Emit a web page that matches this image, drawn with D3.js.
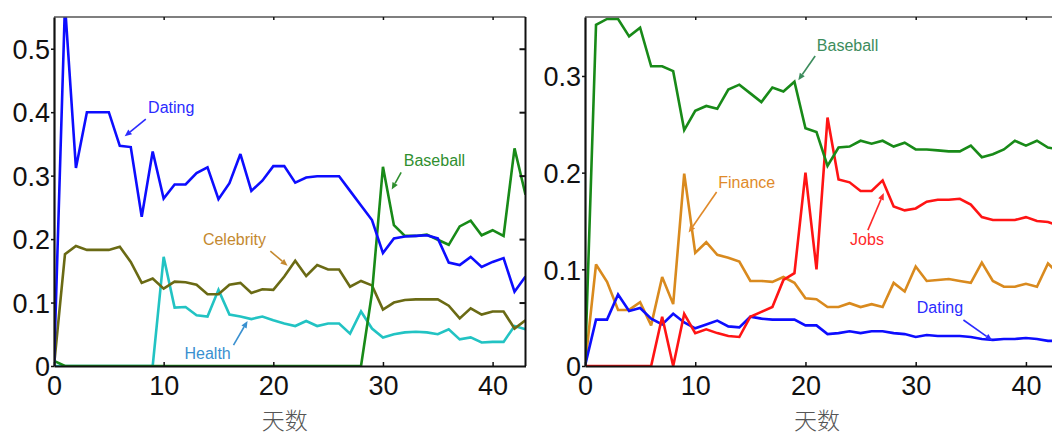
<!DOCTYPE html>
<html><head><meta charset="utf-8">
<script src="https://cdn.jsdelivr.net/npm/d3@7"></script>
<style>
html,body{margin:0;padding:0;background:#fff;}
svg{display:block;}
</style></head>
<body>
<svg id="chart" width="1052" height="436"></svg>
<script>
const days = d3.range(0, 44);
const xTicks = [0, 10, 20, 30, 40];
const leftYTicks = [0, 0.1, 0.2, 0.3, 0.4, 0.5];
const rightYTicks = [0, 0.1, 0.2, 0.3];
const xLabel = "天数";

// Left panel series
const leftDating = [0, 0.57, 0.312, 0.40, 0.40, 0.40, 0.347, 0.345, 0.235, 0.338, 0.264, 0.286, 0.286, 0.304, 0.313, 0.263, 0.288, 0.334, 0.276, 0.292, 0.315, 0.315, 0.289, 0.297, 0.299, 0.299, 0.299, 0.276, 0.253, 0.230, 0.178, 0.201, 0.204, 0.205, 0.206, 0.201, 0.163, 0.159, 0.172, 0.156, 0.164, 0.170, 0.117, 0.141];
const leftBaseball = [0.008, 0, 0, 0, 0, 0, 0, 0, 0, 0, 0, 0, 0, 0, 0, 0, 0, 0, 0, 0, 0, 0, 0, 0, 0, 0, 0, 0, 0, 0.115, 0.314, 0.222, 0.205, 0.205, 0.207, 0.199, 0.191, 0.220, 0.229, 0.206, 0.214, 0.205, 0.343, 0.270];
const leftCelebrity = [0, 0.176, 0.189, 0.183, 0.183, 0.183, 0.188, 0.164, 0.131, 0.138, 0.122, 0.133, 0.132, 0.128, 0.113, 0.113, 0.128, 0.131, 0.115, 0.121, 0.120, 0.141, 0.166, 0.142, 0.159, 0.152, 0.152, 0.125, 0.134, 0.127, 0.089, 0.100, 0.104, 0.105, 0.105, 0.105, 0.095, 0.075, 0.091, 0.081, 0.086, 0.086, 0.059, 0.072];
const leftHealth = [0, 0, 0, 0, 0, 0, 0, 0, 0, 0, 0.172, 0.092, 0.093, 0.080, 0.078, 0.120, 0.081, 0.078, 0.074, 0.078, 0.072, 0.067, 0.063, 0.071, 0.063, 0.067, 0.067, 0.051, 0.086, 0.059, 0.045, 0.050, 0.053, 0.054, 0.053, 0.050, 0.058, 0.042, 0.045, 0.037, 0.038, 0.038, 0.063, 0.058];

// Right panel series
const rightBaseball = [0, 0.353, 0.359, 0.359, 0.341, 0.350, 0.310, 0.310, 0.305, 0.244, 0.264, 0.269, 0.266, 0.286, 0.291, 0.282, 0.273, 0.288, 0.284, 0.294, 0.246, 0.242, 0.207, 0.226, 0.227, 0.233, 0.230, 0.233, 0.227, 0.231, 0.224, 0.224, 0.223, 0.222, 0.222, 0.228, 0.216, 0.219, 0.224, 0.233, 0.228, 0.233, 0.226, 0.224];
const rightJobs = [0, 0, 0, 0, 0, 0, 0, 0.051, 0, 0.054, 0.034, 0.038, 0.034, 0.031, 0.030, 0.051, 0.056, 0.061, 0.089, 0.096, 0.200, 0.100, 0.257, 0.193, 0.190, 0.181, 0.181, 0.192, 0.165, 0.161, 0.163, 0.170, 0.172, 0.172, 0.173, 0.167, 0.154, 0.151, 0.151, 0.151, 0.154, 0.150, 0.149, 0.145];
const rightFinance = [0, 0.105, 0.087, 0.058, 0.058, 0.066, 0.042, 0.092, 0.064, 0.199, 0.117, 0.128, 0.115, 0.112, 0.108, 0.088, 0.088, 0.087, 0.092, 0.086, 0.070, 0.069, 0.061, 0.061, 0.065, 0.061, 0.064, 0.061, 0.086, 0.077, 0.103, 0.088, 0.089, 0.090, 0.088, 0.086, 0.107, 0.088, 0.082, 0.082, 0.085, 0.082, 0.106, 0.095];
const rightDating = [0, 0.048, 0.048, 0.074, 0.057, 0.060, 0.049, 0.043, 0.054, 0.045, 0.039, 0.043, 0.047, 0.041, 0.040, 0.051, 0.049, 0.048, 0.048, 0.048, 0.042, 0.042, 0.033, 0.034, 0.036, 0.034, 0.036, 0.036, 0.034, 0.033, 0.030, 0.032, 0.031, 0.031, 0.031, 0.030, 0.028, 0.027, 0.028, 0.028, 0.029, 0.028, 0.026, 0.026];

// Annotations (data coordinates): label, text pos, arrow start, arrow end
const leftNotes = [
  {label: "Dating", tx: 8.58, ty: 0.399, ax0: 8.37, ay0: 0.389, ax1: 6.45, ay1: 0.362, color: "#2b2bff"},
  {label: "Baseball", tx: 31.9, ty: 0.315, ax0: 31.66, ay0: 0.305, ax1: 30.8, ay1: 0.278, color: "#2f8f2f"},
  {label: "Celebrity", tx: 13.58, ty: 0.190, ax0: 19.73, ay0: 0.181, ax1: 21.3, ay1: 0.158, color: "#c4892f"},
  {label: "Health", tx: 11.9, ty: 0.011, ax0: 16.37, ay0: 0.033, ax1: 17.65, ay1: 0.071, color: "#3a90d0"}
];
const rightNotes = [
  {label: "Baseball", tx: 21.03, ty: 0.326, ax0: 20.88, ay0: 0.3206, ax1: 19.35, ay1: 0.2955, color: "#3c8c5c"},
  {label: "Finance", tx: 12.09, ty: 0.184, ax0: 11.94, ay0: 0.180, ax1: 9.4, ay1: 0.138, color: "#e08a2a"},
  {label: "Jobs", tx: 24.05, ty: 0.125, ax0: 25.66, ay0: 0.1406, ax1: 27.1, ay1: 0.179, color: "#ff2a2a"},
  {label: "Dating", tx: 30.1, ty: 0.0548, ax0: 34.33, ay0: 0.0476, ax1: 36.95, ay1: 0.0265, color: "#2b2bff"}
];

const COLORS = {blue: "#0d0dff", green: "#188a18", olive: "#6a6a14", cyan: "#22c3c3", red: "#ff1414", orange: "#d98a1e"};

const svg = d3.select("#chart");
svg.append("rect").attr("width", 1052).attr("height", 436).attr("fill", "#fff");

function drawPanel(cfg) {
  const x = d3.scaleLinear().domain([0, 43]).range([cfg.left, cfg.right]);
  const y = d3.scaleLinear().domain([0, cfg.ymax]).range([366, 17]);
  const g = svg.append("g");
  const clipId = "clip" + cfg.id;
  svg.append("clipPath").attr("id", clipId).append("rect")
    .attr("x", cfg.left).attr("y", 17).attr("width", cfg.right - cfg.left).attr("height", 349);

  const line = d3.line().x((d, i) => x(days[i])).y(d => y(d));
  const lines = g.append("g").attr("clip-path", `url(#${clipId})`);
  cfg.series.forEach(s => {
    lines.append("path").datum(s.values)
      .attr("d", line).attr("fill", "none").attr("stroke", s.color)
      .attr("stroke-width", 2.6).attr("stroke-linejoin", "miter").attr("stroke-miterlimit", 3);
  });

  // frame
  g.append("line").attr("x1", cfg.left).attr("x2", cfg.right).attr("y1", 17).attr("y2", 17)
    .attr("stroke", "#555").attr("stroke-width", 1.3);
  g.append("line").attr("x1", cfg.right).attr("x2", cfg.right).attr("y1", 17).attr("y2", 366)
    .attr("stroke", "#111").attr("stroke-width", 2);

  // bottom axis (ticks inward)
  const bottom = g.append("g").attr("transform", "translate(0,366)")
    .call(d3.axisBottom(x).tickValues(xTicks).tickSizeInner(-4).tickSizeOuter(0).tickPadding(8).tickFormat(d3.format("d")));
  bottom.select(".domain").attr("stroke", "#111").attr("stroke-width", 2.2);
  bottom.selectAll(".tick line").attr("stroke", "#111").attr("stroke-width", 1.5);
  bottom.selectAll(".tick text").attr("font-family", "Liberation Sans, Arial, sans-serif")
    .attr("font-size", 27).attr("fill", "#111").attr("y", 29).attr("dy", 0);

  // top ticks
  const top = g.append("g").attr("transform", "translate(0,17)")
    .call(d3.axisTop(x).tickValues(xTicks.filter(v => v > 0)).tickSizeInner(-3).tickSizeOuter(0).tickFormat(""));
  top.select(".domain").remove();
  top.selectAll(".tick line").attr("stroke", "#111").attr("stroke-width", 1.5);

  // left axis
  const left = g.append("g").attr("transform", `translate(${cfg.left},0)`)
    .call(d3.axisLeft(y).tickValues(cfg.yTicks).tickSizeInner(3).tickSizeOuter(0).tickPadding(1)
      .tickFormat(d => d === 0 ? "0" : d3.format(".1f")(d)));
  left.select(".domain").attr("stroke", "#111").attr("stroke-width", 2.2);
  left.selectAll(".tick line").attr("stroke", "#111").attr("stroke-width", 1.5);
  left.selectAll(".tick text").attr("font-family", "Liberation Sans, Arial, sans-serif")
    .attr("font-size", 27).attr("fill", "#111").attr("dy", "0.36em");

  // right ticks
  const right = g.append("g").attr("transform", `translate(${cfg.right},0)`)
    .call(d3.axisRight(y).tickValues(cfg.yTicks.filter(v => v > 0)).tickSizeInner(-6).tickSizeOuter(0).tickFormat(""));
  right.select(".domain").remove();
  right.selectAll(".tick line").attr("stroke", "#111").attr("stroke-width", 2);

  // x label
  svg.append("text").attr("x", (cfg.left + cfg.right) / 2 - 5).attr("y", 429)
    .attr("text-anchor", "middle").attr("font-family", "Noto Sans CJK SC, sans-serif")
    .attr("font-size", 23).attr("font-weight", 300).attr("fill", "#555").text(xLabel);

  // annotations
  cfg.notes.forEach(n => {
    const ag = g.append("g");
    ag.append("text").attr("x", x(n.tx)).attr("y", y(n.ty))
      .attr("font-family", "Liberation Sans, Arial, sans-serif").attr("font-size", 16)
      .attr("fill", n.color).text(n.label);
    const x0 = x(n.ax0), y0 = y(n.ay0), x1 = x(n.ax1), y1 = y(n.ay1);
    const ang = Math.atan2(y1 - y0, x1 - x0);
    const hl = 7, hw = 3;
    const bx = x1 - hl * Math.cos(ang), by = y1 - hl * Math.sin(ang);
    ag.append("line").attr("x1", x0).attr("y1", y0).attr("x2", bx).attr("y2", by)
      .attr("stroke", n.color).attr("stroke-width", 1.6);
    const px = -Math.sin(ang), py = Math.cos(ang);
    ag.append("path")
      .attr("d", `M${x1},${y1}L${bx + hw * px},${by + hw * py}L${bx - hw * px},${by - hw * py}Z`)
      .attr("fill", n.color);
  });
}

drawPanel({
  id: "L", left: 54, right: 525.5, ymax: 0.55, yTicks: leftYTicks,
  series: [
    {values: leftHealth, color: COLORS.cyan},
    {values: leftCelebrity, color: COLORS.olive},
    {values: leftBaseball, color: COLORS.green},
    {values: leftDating, color: COLORS.blue}
  ],
  notes: leftNotes
});

drawPanel({
  id: "R", left: 585, right: 1059, ymax: 0.361, yTicks: rightYTicks,
  series: [
    {values: rightFinance, color: COLORS.orange},
    {values: rightDating, color: COLORS.blue},
    {values: rightJobs, color: COLORS.red},
    {values: rightBaseball, color: COLORS.green}
  ],
  notes: rightNotes
});
</script>
</body></html>
